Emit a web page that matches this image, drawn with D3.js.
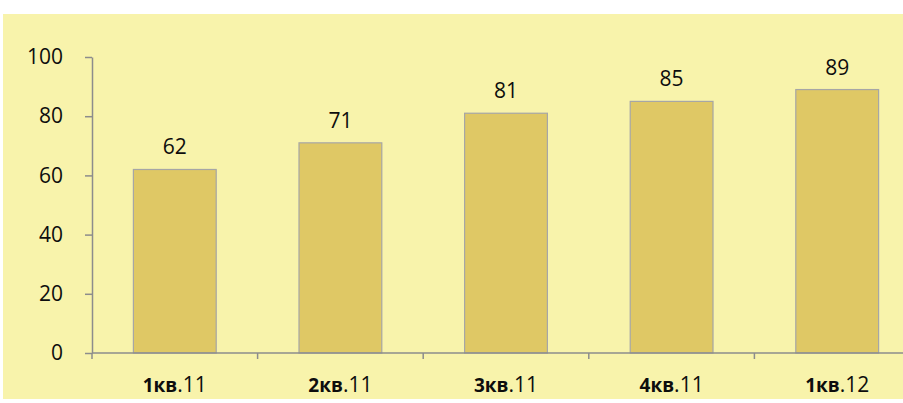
<!DOCTYPE html>
<html>
<head>
<meta charset="utf-8">
<script src="https://cdn.jsdelivr.net/npm/d3@7"></script>
<style>
  body { margin: 0; background: #fff; }
  text { font-family: "Open Sans", "Noto Sans", sans-serif; fill: #0d0d0d; }
</style>
</head>
<body>
<svg id="chart" width="903" height="403"></svg>
<script>
var categories = ['1кв.11', '2кв.11', '3кв.11', '4кв.11', '1кв.12'];
var values = [62, 71, 81, 85, 89];
var yTicks = [0, 20, 40, 60, 80, 100];

var svg = d3.select('#chart');

// panel background
svg.append('rect')
    .attr('x', 3).attr('y', 14)
    .attr('width', 900).attr('height', 385)
    .attr('fill', '#f8f3ab');

var x = d3.scaleBand().domain(categories)
    .range([92, 920]).paddingInner(0.5).paddingOuter(0.25);
var y = d3.scaleLinear().domain([0, 100]).range([353, 57]);

// bars
svg.selectAll('.bar').data(values).enter().append('rect')
    .attr('class', 'bar')
    .attr('x', (d, i) => x(categories[i]))
    .attr('y', d => y(d))
    .attr('width', x.bandwidth())
    .attr('height', d => y(0) - y(d))
    .attr('fill', '#dfc865')
    .attr('stroke', '#a6a6a6')
    .attr('stroke-width', 1.2);

// value labels
svg.selectAll('.val').data(values).enter().append('text')
    .attr('class', 'val')
    .attr('x', (d, i) => x(categories[i]) + x.bandwidth() / 2)
    .attr('y', d => y(d) - 15)
    .attr('text-anchor', 'middle')
    .style('font-size', '21px')
    .text(d => d);

// y axis
var yAxis = svg.append('g')
    .attr('transform', 'translate(92,0)')
    .call(d3.axisLeft(y).tickValues(yTicks).tickSize(7).tickSizeOuter(0).tickPadding(22));
yAxis.select('.domain').attr('stroke', '#8c8c8c').attr('stroke-width', 1.5);
yAxis.selectAll('.tick line').attr('stroke', '#8c8c8c').attr('stroke-width', 1.5);
yAxis.selectAll('.tick text')
    .style('font-size', '21px')
    .style('font-family', '"Open Sans", "Noto Sans", sans-serif');

// x axis line
svg.append('line')
    .attr('x1', 92).attr('x2', 903)
    .attr('y1', y(0)).attr('y2', y(0))
    .attr('stroke', '#8c8c8c').attr('stroke-width', 1.5);

// boundary ticks between categories
var bounds = d3.range(categories.length + 1).map(i => 92 + i * x.step());
svg.selectAll('.xtick').data(bounds).enter().append('line')
    .attr('class', 'xtick')
    .attr('x1', d => d).attr('x2', d => d)
    .attr('y1', y(0)).attr('y2', y(0) + 6)
    .attr('stroke', '#8c8c8c').attr('stroke-width', 1.5);

// category labels: bold quarter part, regular year part
var lbl = svg.selectAll('.cat').data(categories).enter().append('text')
    .attr('class', 'cat')
    .attr('x', d => x(d) + x.bandwidth() / 2)
    .attr('y', 392)
    .attr('text-anchor', 'middle')
    .style('font-size', '21px');
lbl.append('tspan').style('font-weight', 'bold').style('font-size', '19px')
    .text(d => d.split('.')[0]);
lbl.append('tspan').text(d => '.' + d.split('.')[1]);
</script>
</body>
</html>
